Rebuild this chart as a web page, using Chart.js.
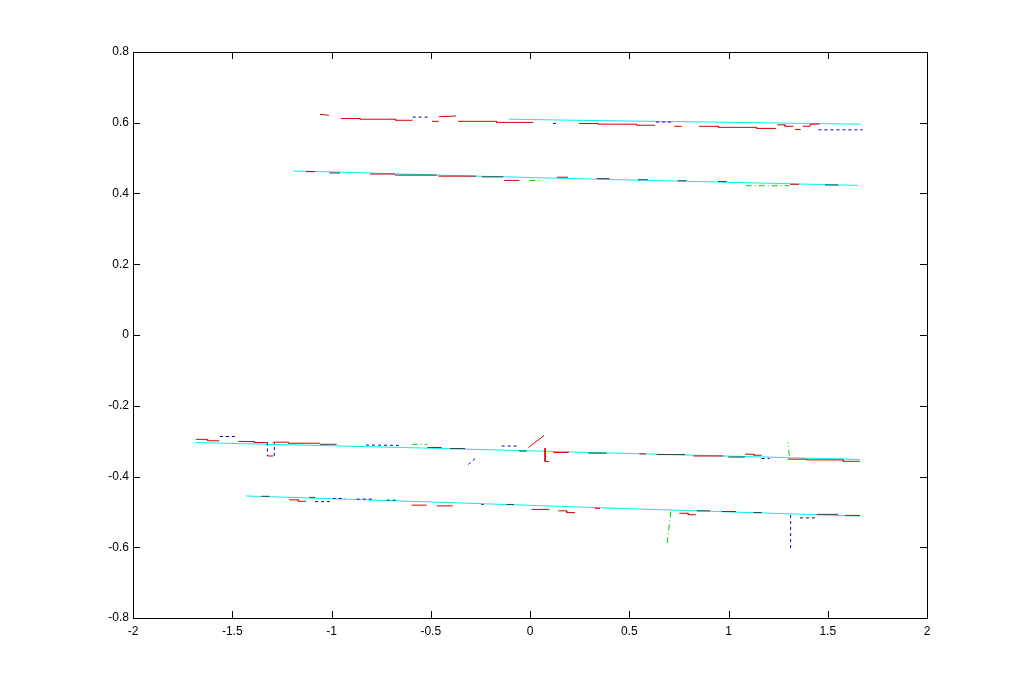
<!DOCTYPE html>
<html>
<head>
<meta charset="utf-8">
<script src="https://cdn.jsdelivr.net/npm/chart.js@4/dist/chart.umd.min.js"></script>
<style>
html,body{margin:0;padding:0;background:#fff;}
canvas{display:block;}
</style>
</head>
<body>
<canvas id="c" width="1024" height="694"></canvas>
<script>
// ---- axis ticks ----
const xTickLabels = ['-2','-1.5','-1','-0.5','0','0.5','1','1.5','2'];
const yTickLabels = ['-0.8','-0.6','-0.4','-0.2','0','0.2','0.4','0.6','0.8'];

// ---- cyan fitted lines (polylines of [x,y]) ----
const cyanLines = [
  [[-0.106,0.610],[0.35,0.606],[0.9,0.602],[1.667,0.596]],
  [[-1.192,0.4636],[-0.93,0.460],[-0.47,0.452],[0.3,0.441],[1.652,0.423]],
  [[-1.683,-0.304],[-0.5,-0.320],[0.5,-0.335],[1.662,-0.352]],
  [[-1.431,-0.455],[-0.5,-0.472],[0.5,-0.491],[1.662,-0.512]]
];

// ---- red segments ----
const redTop = [
  [[-1.058,0.624],[-1.013,0.621]],
  [[-0.952,0.612],[-0.856,0.612],[-0.856,0.610],[-0.677,0.610],[-0.677,0.607],[-0.591,0.607]],
  [[-0.494,0.604],[-0.460,0.604]],
  [[-0.460,0.617],[-0.373,0.619]],
  [[-0.363,0.604],[-0.168,0.604],[-0.168,0.601],[0.017,0.601]],
  [[0.247,0.598],[0.343,0.598],[0.343,0.596],[0.537,0.596],[0.537,0.593],[0.630,0.593]],
  [[0.727,0.590],[0.764,0.590]],
  [[0.851,0.590],[0.949,0.590],[0.949,0.587],[1.142,0.587],[1.142,0.584],[1.239,0.584]],
  [[1.246,0.594],[1.285,0.594],[1.285,0.590],[1.327,0.590]],
  [[1.335,0.581],[1.364,0.581]],
  [[1.374,0.590],[1.411,0.590],[1.411,0.596],[1.458,0.596]]
];
const redUpper = [
  [[-0.806,0.455],[-0.680,0.455]],
  [[-0.462,0.449],[-0.272,0.449]],
  [[-0.131,0.437],[-0.054,0.437]],
  [[0.136,0.446],[0.191,0.446]],
  [[0.544,0.439],[0.594,0.439]],
  [[0.947,0.434],[0.991,0.434]],
  [[1.310,0.426],[1.355,0.426]]
];
const redLower = [
  [[-1.683,-0.295],[-1.624,-0.295],[-1.624,-0.299],[-1.565,-0.299]],
  [[-1.469,-0.301],[-1.390,-0.301],[-1.390,-0.304],[-1.323,-0.304]],
  [[-1.323,-0.342],[-1.293,-0.342]],
  [[-1.296,-0.303],[-1.217,-0.303],[-1.217,-0.306],[-1.058,-0.306]],
  [[-0.517,-0.318],[-0.445,-0.318]],
  [[-0.008,-0.318],[0.071,-0.284]],
  [[0.076,-0.320],[0.076,-0.358],[0.097,-0.358]],
  [[0.117,-0.332],[0.196,-0.332]],
  [[0.551,-0.336],[0.584,-0.336]],
  [[0.823,-0.342],[0.974,-0.342]],
  [[1.083,-0.337],[1.128,-0.337],[1.128,-0.340],[1.167,-0.340]],
  [[1.298,-0.351],[1.394,-0.351],[1.394,-0.353],[1.578,-0.353],[1.578,-0.357],[1.662,-0.357]]
];
const redBottom = [
  [[-1.213,-0.466],[-1.167,-0.466],[-1.167,-0.470],[-1.128,-0.470]],
  [[-1.112,-0.459],[-1.083,-0.459]],
  [[-0.596,-0.481],[-0.521,-0.481]],
  [[-0.470,-0.483],[-0.390,-0.483]],
  [[0.008,-0.493],[0.097,-0.493]],
  [[0.143,-0.497],[0.185,-0.497],[0.185,-0.502],[0.227,-0.502]],
  [[0.327,-0.490],[0.353,-0.490]],
  [[0.752,-0.504],[0.797,-0.504],[0.797,-0.508],[0.836,-0.508]],
  [[0.966,-0.499],[1.038,-0.499]],
  [[1.587,-0.510],[1.662,-0.510]]
];

// ---- dark (black) segments ----
const blackSegments = [
  [[-1.128,0.462],[-1.083,0.462]],
  [[-1.011,0.458],[-0.957,0.458]],
  [[-0.680,0.452],[-0.470,0.452]],
  [[-0.243,0.447],[-0.134,0.447]],
  [[0.336,0.442],[0.400,0.442]],
  [[0.744,0.436],[0.789,0.436]],
  [[1.486,0.424],[1.553,0.424]],
  [[-1.058,-0.309],[-0.974,-0.309]],
  [[-0.403,-0.321],[-0.327,-0.321]],
  [[-0.055,-0.328],[-0.017,-0.328]],
  [[0.294,-0.334],[0.386,-0.334]],
  [[0.638,-0.338],[0.781,-0.338]],
  [[0.999,-0.345],[1.083,-0.345]],
  [[-1.352,-0.456],[-1.313,-0.456]],
  [[-0.246,-0.479],[-0.232,-0.479]],
  [[-0.118,-0.479],[-0.081,-0.479]],
  [[0.840,-0.497],[0.907,-0.497]],
  [[1.125,-0.502],[1.167,-0.502]],
  [[1.444,-0.507],[1.553,-0.507]]
];

// ---- blue dotted segments ----
const blueSegments = [
  [[-0.591,0.616],[-0.512,0.616]],
  [[0.116,0.598],[0.146,0.598]],
  [[0.635,0.602],[0.714,0.602]],
  [[1.453,0.580],[1.676,0.580]],
  [[-1.562,-0.287],[-1.481,-0.287]],
  [[-1.323,-0.304],[-1.323,-0.342]],
  [[-1.288,-0.342],[-1.288,-0.304]],
  [[-0.826,-0.311],[-0.655,-0.312]],
  [[-0.311,-0.366],[-0.269,-0.346]],
  [[-0.143,-0.314],[-0.067,-0.314]],
  [[1.167,-0.349],[1.206,-0.349]],
  [[-1.083,-0.471],[-1.008,-0.471]],
  [[-0.994,-0.462],[-0.932,-0.462]],
  [[-0.873,-0.464],[-0.789,-0.464]],
  [[-0.722,-0.467],[-0.672,-0.467]],
  [[1.313,-0.509],[1.313,-0.611]],
  [[1.360,-0.517],[1.436,-0.517]]
];

// ---- green dash-dot segments ----
const greenSegments = [
  [[-0.003,0.437],[0.047,0.437]],
  [[1.087,0.422],[1.306,0.422]],
  [[-0.596,-0.309],[-0.517,-0.309]],
  [[1.306,-0.342],[1.300,-0.302]],
  [[0.710,-0.499],[0.689,-0.597]]
];

function toPoints(polys){
  const pts = [];
  polys.forEach((poly, i) => {
    if (i > 0) pts.push({x: null, y: null});
    poly.forEach(p => pts.push({x: p[0], y: p[1]}));
  });
  return pts;
}

function ds(polys, color, dash, order){
  return {
    data: toPoints(polys),
    showLine: true,
    spanGaps: false,
    borderColor: color,
    backgroundColor: color,
    borderWidth: 1,
    borderDash: dash,
    pointRadius: 0,
    pointHoverRadius: 0,
    tension: 0,
    order: order
  };
}

const boxPlugin = {
  id: 'box',
  afterDraw(chart){
    const {ctx, chartArea: a, scales} = chart;
    ctx.save();
    ctx.strokeStyle = '#000';
    ctx.lineWidth = 1;
    ctx.setLineDash([]);
    ctx.beginPath();
    ctx.rect(Math.round(a.left)+0.5, Math.round(a.top)+0.5, Math.round(a.right-a.left), Math.round(a.bottom-a.top));
    ctx.stroke();
    const L = 7;
    ctx.beginPath();
    scales.x.ticks.forEach(t => {
      const px = Math.round(scales.x.getPixelForValue(t.value)) + 0.5;
      ctx.moveTo(px, a.bottom); ctx.lineTo(px, a.bottom - L);
      ctx.moveTo(px, a.top); ctx.lineTo(px, a.top + L);
    });
    scales.y.ticks.forEach(t => {
      const py = Math.round(scales.y.getPixelForValue(t.value)) + 0.5;
      ctx.moveTo(a.left, py); ctx.lineTo(a.left + L, py);
      ctx.moveTo(a.right, py); ctx.lineTo(a.right - L, py);
    });
    ctx.stroke();
    ctx.restore();
  }
};

new Chart(document.getElementById('c'), {
  type: 'scatter',
  data: {
    datasets: [
      ds(redTop, '#d80000', [], 1),
      ds(redUpper, '#d80000', [], 1),
      ds(redLower, '#d80000', [], 1),
      ds(redBottom, '#d80000', [], 1),
      ds(blackSegments, '#3a3a3a', [], 1),
      ds(blueSegments, '#0000d0', [3,3], 1),
      ds(greenSegments, '#00d000', [6,3,1,3], 1),
      ds(cyanLines, '#00f0f0', [], 2)
    ]
  },
  plugins: [boxPlugin],
  options: {
    responsive: false,
    animation: false,
    events: [],
    layout: { padding: { left: 0, top: 52, right: 97, bottom: 0 } },
    plugins: { legend: { display: false }, tooltip: { enabled: false } },
    scales: {
      x: {
        type: 'linear', min: -2, max: 2,
        afterFit(s){ s.height = 76; },
        grid: { display: false, drawTicks: false },
        border: { display: false },
        ticks: {
          stepSize: 0.5, padding: 6, color: '#000', maxRotation: 0, autoSkip: false,
          font: { family: 'Liberation Sans, Arial, sans-serif', size: 12 },
          callback: (v, i) => xTickLabels[i]
        }
      },
      y: {
        type: 'linear', min: -0.8, max: 0.8,
        afterFit(s){ s.width = 133; },
        grid: { display: false, drawTicks: false },
        border: { display: false },
        ticks: {
          stepSize: 0.2, padding: 4, color: '#000', autoSkip: false,
          font: { family: 'Liberation Sans, Arial, sans-serif', size: 12 },
          callback: (v, i) => yTickLabels[i]
        }
      }
    }
  }
});
</script>
</body>
</html>
